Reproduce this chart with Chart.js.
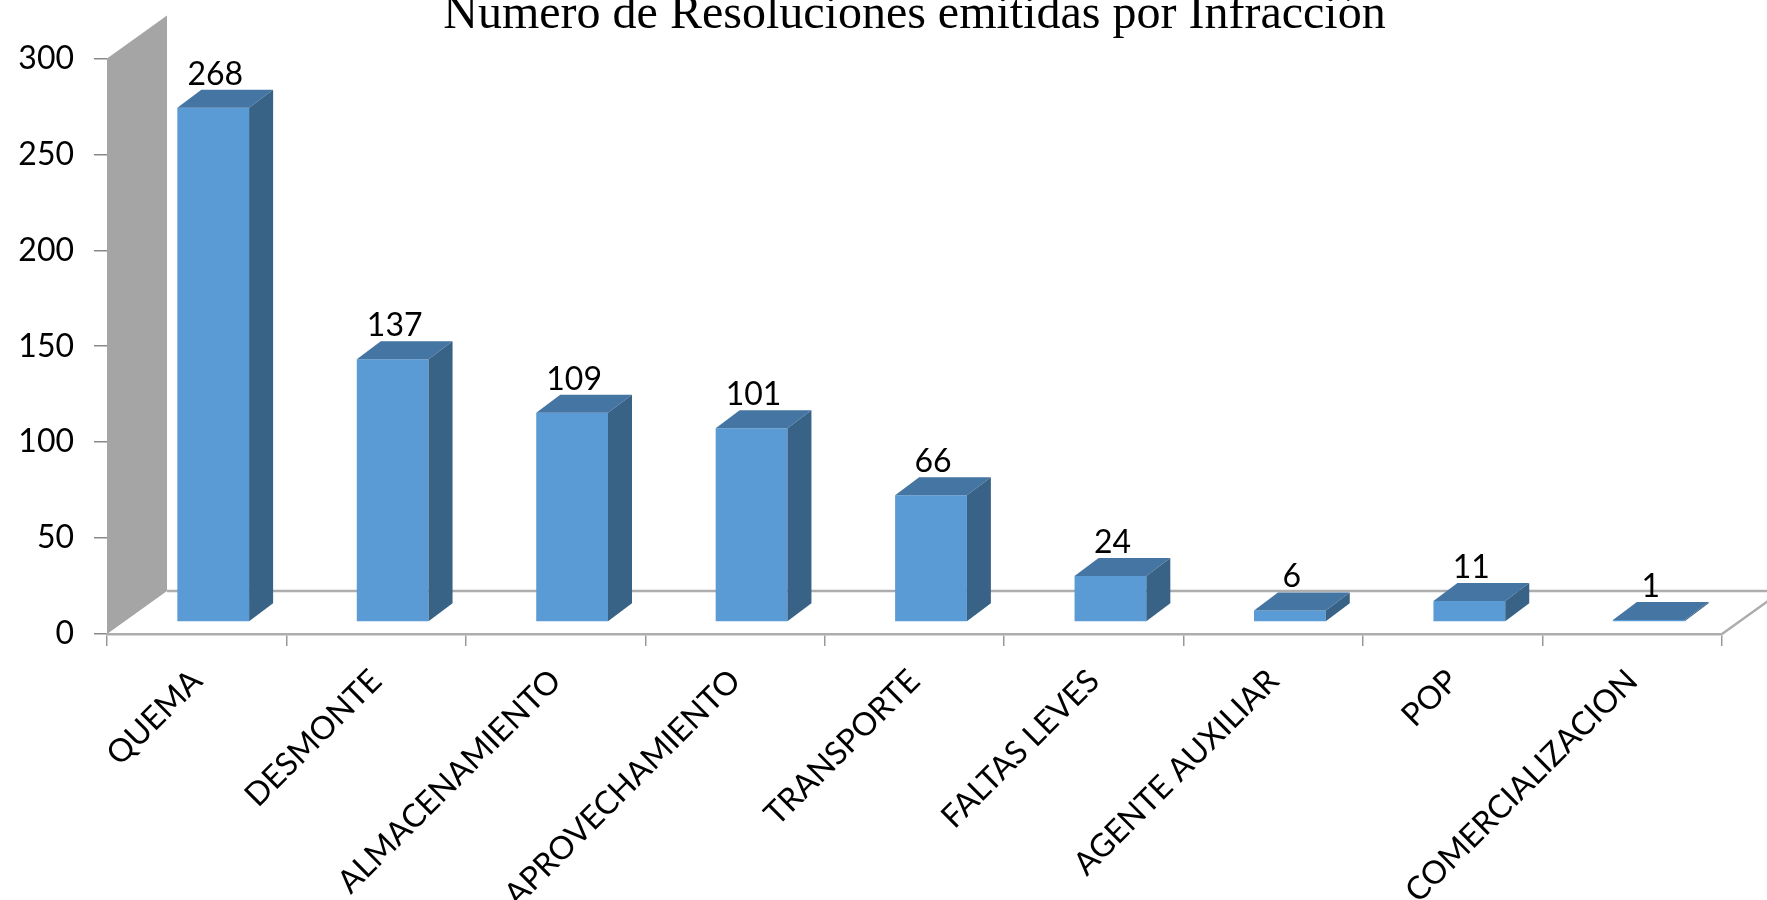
<!DOCTYPE html>
<html>
<head>
<meta charset="utf-8">
<script src="https://cdn.jsdelivr.net/npm/chart.js@4.4.1/dist/chart.umd.min.js"></script>
<style>
html, body { margin: 0; padding: 0; background: #fff; }
canvas { display: block; }
</style>
</head>
<body>
<canvas id="infraccionChart" width="1767" height="900"></canvas>
<script>
// categorias (eje x)
var categorias = ["QUEMA", "DESMONTE", "ALMACENAMIENTO", "APROVECHAMIENTO", "TRANSPORTE", "FALTAS LEVES", "AGENTE AUXILIAR", "POP", "COMERCIALIZACION"];
// resoluciones emitidas
var resoluciones = [268, 137, 109, 101, 66, 24, 6, 11, 1];
// eje y
var ejeMin = 0;
var ejeMax = 300;
var ejePaso = 50;
var titulo = "Numero de Resoluciones emitidas por Infracción";

// profundidad para el efecto 3D
var pared = { dx: 60, dy: -43 };
var desplaza = { dx: 16.5, dy: -12 };
var fondo = { dx: 24, dy: -18 };

var efecto3D = {
    id: 'efecto3D',
    beforeDatasetsDraw: function(chart) {
        var ctx = chart.ctx, a = chart.chartArea;
        ctx.save();
        // pared gris
        ctx.fillStyle = '#A5A5A5';
        ctx.beginPath();
        ctx.moveTo(a.left, a.top);
        ctx.lineTo(a.left + pared.dx, a.top + pared.dy);
        ctx.lineTo(a.left + pared.dx, a.bottom + pared.dy);
        ctx.lineTo(a.left, a.bottom);
        ctx.closePath();
        ctx.fill();
        // piso
        ctx.strokeStyle = '#ADADAD';
        ctx.lineWidth = 2.5;
        ctx.beginPath();
        ctx.moveTo(a.left + pared.dx, a.bottom + pared.dy);
        ctx.lineTo(a.right + pared.dx, a.bottom + pared.dy);
        ctx.lineTo(a.right, a.bottom);
        ctx.stroke();
        ctx.restore();
        // las barras se dibujan un poco hacia atras
        ctx.save();
        ctx.translate(desplaza.dx, desplaza.dy);
    },
    afterDatasetsDraw: function(chart) {
        var ctx = chart.ctx;
        var meta = chart.getDatasetMeta(0);
        meta.data.forEach(function(bar) {
            var l = bar.x - bar.width / 2, r = bar.x + bar.width / 2;
            var t = bar.y, b = bar.base;
            // cara superior
            ctx.fillStyle = '#4575A2';
            ctx.beginPath();
            ctx.moveTo(l, t);
            ctx.lineTo(l + fondo.dx, t + fondo.dy);
            ctx.lineTo(r + fondo.dx, t + fondo.dy);
            ctx.lineTo(r, t);
            ctx.closePath();
            ctx.fill();
            // cara lateral
            ctx.fillStyle = '#386286';
            ctx.beginPath();
            ctx.moveTo(r, t);
            ctx.lineTo(r + fondo.dx, t + fondo.dy);
            ctx.lineTo(r + fondo.dx, b + fondo.dy);
            ctx.lineTo(r, b);
            ctx.closePath();
            ctx.fill();
        });
        ctx.restore();
        // etiquetas de valor
        ctx.save();
        ctx.font = '32px Lato';
        ctx.fillStyle = '#000';
        ctx.textAlign = 'center';
        ctx.textBaseline = 'alphabetic';
        meta.data.forEach(function(bar, i) {
            ctx.fillText(String(resoluciones[i]), bar.x + desplaza.dx + 2, bar.y + desplaza.dy - 23);
        });
        ctx.restore();
    }
};

var ctx = document.getElementById("infraccionChart").getContext('2d');
var infraccionChart = new Chart(ctx, {
    type: 'bar',
    data: {
        labels: categorias,
        datasets: [
            {
                data: resoluciones,
                backgroundColor: '#5B9BD5',
                borderWidth: 0,
                barPercentage: 0.4,
                categoryPercentage: 1,
                clip: false
            }
        ]
    },
    options: {
        responsive: false,
        animation: false,
        layout: { padding: { left: 0, right: 45, top: 0, bottom: 0 } },
        plugins: {
            legend: { display: false },
            tooltip: { enabled: false },
            title: {
                display: true,
                text: titulo,
                fullSize: false,
                color: '#000',
                font: { family: 'Liberation Serif', size: 48, weight: 'normal', lineHeight: 0.64 },
                padding: { top: 0, bottom: 27.7 }
            }
        },
        scales: {
            x: {
                offset: true,
                grid: { offset: true, drawOnChartArea: false, drawTicks: true, tickLength: 12, color: '#999', lineWidth: 1.5 },
                border: { display: true, color: '#ADADAD', width: 2.5 },
                ticks: { autoSkip: false, minRotation: 45, maxRotation: 45, color: '#000', font: { family: 'Lato', size: 32 }, padding: 16 },
                afterFit: function(s) { s.height = 266; }
            },
            y: {
                min: ejeMin,
                max: ejeMax,
                ticks: { stepSize: ejePaso, color: '#000', font: { family: 'Lato', size: 32 }, padding: 20 },
                grid: { drawOnChartArea: false, tickLength: 13, color: '#888', lineWidth: 1.5 },
                border: { display: false },
                afterFit: function(s) { s.width = 107; }
            }
        }
    },
    plugins: [efecto3D]
});
</script>
</body>
</html>
